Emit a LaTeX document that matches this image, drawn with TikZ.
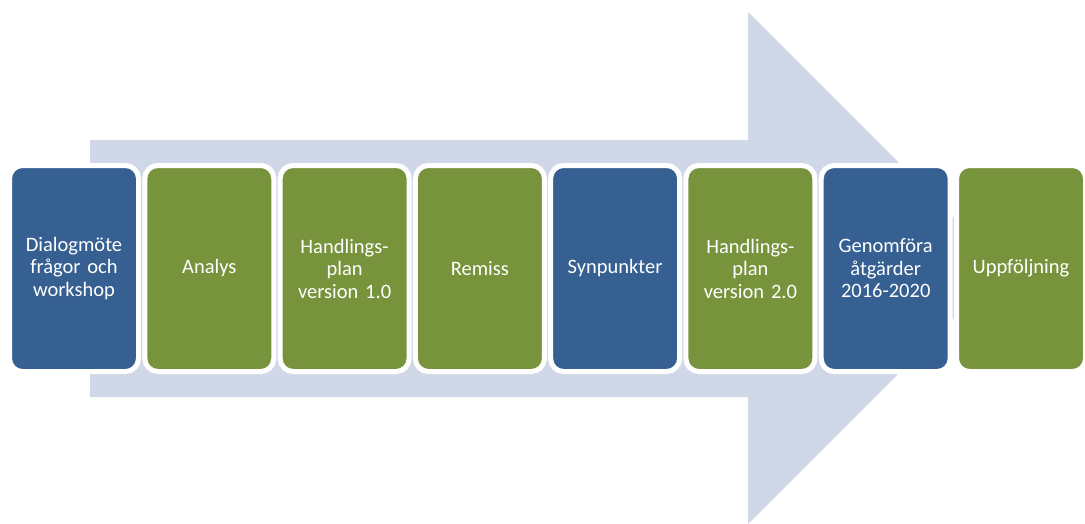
\documentclass[tikz,border=0pt]{standalone}
\usepackage{fontspec}
\setmainfont[WordSpace=0.75]{Carlito}
\definecolor{arrowc}{RGB}{208,216,232}
\definecolor{bluec}{RGB}{54,96,146}
\definecolor{greenc}{RGB}{119,147,60}
\begin{document}
\begin{tikzpicture}[x=1pt,y=-1pt,
  stepbox/.style={draw=white, line width=5pt, rounded corners=13pt,
    minimum width=129pt, minimum height=206pt, inner sep=0pt,
    text=white, align=center, text width=124pt,
    font=\fontsize{20.5}{22.5}\selectfont},
  bluebox/.style={stepbox, fill=bluec},
  greenbox/.style={stepbox, fill=greenc}]
\useasboundingbox (0,0) rectangle (1085,523);
\fill[arrowc] (90,140) -- (748,140) -- (748,12) -- (1004,268) -- (748,524) -- (748,397) -- (90,397) -- cycle;
\node[bluebox]  (b1) at (74,268.5) {Dialogmöte\\frågor och\\workshop};
\node[greenbox] (b2) at (209.3,268.5) {Analys};
\node[greenbox] (b3) at (344.6,268.5) {Handlings-\\plan\\version 1.0};
\node[greenbox] (b4) at (479.9,268.5) {Remiss};
\node[bluebox]  (b5) at (615.1,268.5) {Synpunkter};
\node[greenbox] (b6) at (750.4,268.5) {Handlings-\\plan\\version 2.0};
\node[bluebox]  (b7) at (885.7,268.5) {Genomföra\\åtgärder\\2016-2020};
\node[greenbox] (b8) at (1021,268.5) {Uppföljning};
\end{tikzpicture}
\end{document}
